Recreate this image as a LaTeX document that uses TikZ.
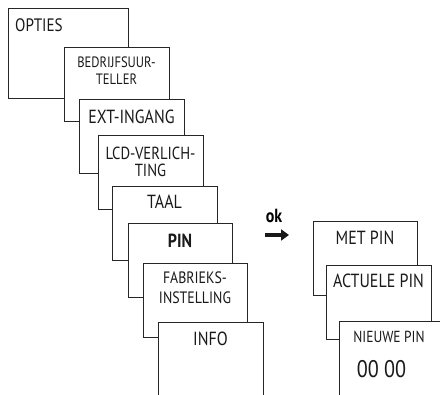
\documentclass[tikz,border=0pt]{standalone}
\usepackage{fontspec}
\setmainfont{PT Sans}[FakeStretch=0.84]
\usetikzlibrary{arrows.meta}
\tikzset{
  box/.style={draw=black!85, line width=0.9pt, fill=white, rectangle, inner sep=0pt, anchor=north west},
  openbox/.style={draw=black!85, line width=0.9pt},
  big/.style={font=\fontsize{19}{20}\selectfont, text=black!90, inner sep=0pt, align=center},
  small/.style={font=\fontsize{15}{17}\selectfont, text=black!90, inner sep=0pt, align=center},
}
\begin{document}
\begin{tikzpicture}[x=1pt,y=-1pt]
\useasboundingbox (0,0) rectangle (440,395);
\clip (0,0) rectangle (440,395);
% left stack
\node[box, minimum width=120pt, minimum height=90pt] (opties) at (8,8) {};
\node[big, font=\fontsize{18}{20}\selectfont, anchor=west] (topties) at (15,25) {OPTIES};
\node[box, minimum width=105pt, minimum height=74pt] (bedr) at (64,47) {};
\node[small] (tbedr) at (116.5,71) {BEDRIJFSUUR-\\TELLER};
\node[box, minimum width=105pt, minimum height=74pt] (ext) at (79,99) {};
\node[big] (text) at (131.5,117) {EXT-INGANG};
\node[box, minimum width=105pt, minimum height=74pt] (lcd) at (98,135) {};
\node[small, font=\fontsize{17.5}{17}\selectfont] (tlcd) at (150.5,161.5) {LCD-VERLICH-\\TING};
\node[box, minimum width=105pt, minimum height=74pt] (taal) at (112,186) {};
\node[big] (ttaal) at (164.5,202) {TAAL};
\node[box, minimum width=104pt, minimum height=74pt] (pin) at (128,223) {};
\node[big, font=\bfseries\fontsize{19}{20}\selectfont] (tpin) at (180,241) {PIN};
\node[box, minimum width=104pt, minimum height=74pt] (fab) at (143,263) {};
\node[small, font=\fontsize{16.5}{20.5}\selectfont] (tfab) at (195,287.5) {FABRIEKS-\\INSTELLING};
% INFO box, open at bottom
\fill[white] (158,322) rectangle (263,400);
\draw[openbox] (158,400) |- (263,322) -- (263,400);
\node[big] (tinfo) at (210.5,339) {INFO};
% ok arrow
\node[font=\bfseries\fontsize{19}{19}\selectfont, inner sep=0pt] (ok) at (274,216) {ok};
\coordinate (arrS) at (265,235);
\coordinate (arrE) at (289,235);
\draw[line width=4.5pt, black!90, -{Triangle[length=8pt,width=11pt]}] (arrS) -- (arrE);
% right stack
\node[box, minimum width=104pt, minimum height=74pt] (met) at (313,221) {};
\node[big] (tmet) at (365,238) {MET PIN};
\node[box, minimum width=105pt, minimum height=74pt] (act) at (326,265) {};
\node[big] (tact) at (378.5,281) {ACTUELE PIN};
\fill[white] (339,321) rectangle (450,400);
\draw[openbox] (339,400) |- (450,321);
\node[small, font=\fontsize{16}{17}\selectfont] (tnieuw) at (389,337) {NIEUWE PIN};
\node[big, font=\fontsize{24}{25}\selectfont] (tcode) at (381.5,369) {00 00};
\end{tikzpicture}
\end{document}
